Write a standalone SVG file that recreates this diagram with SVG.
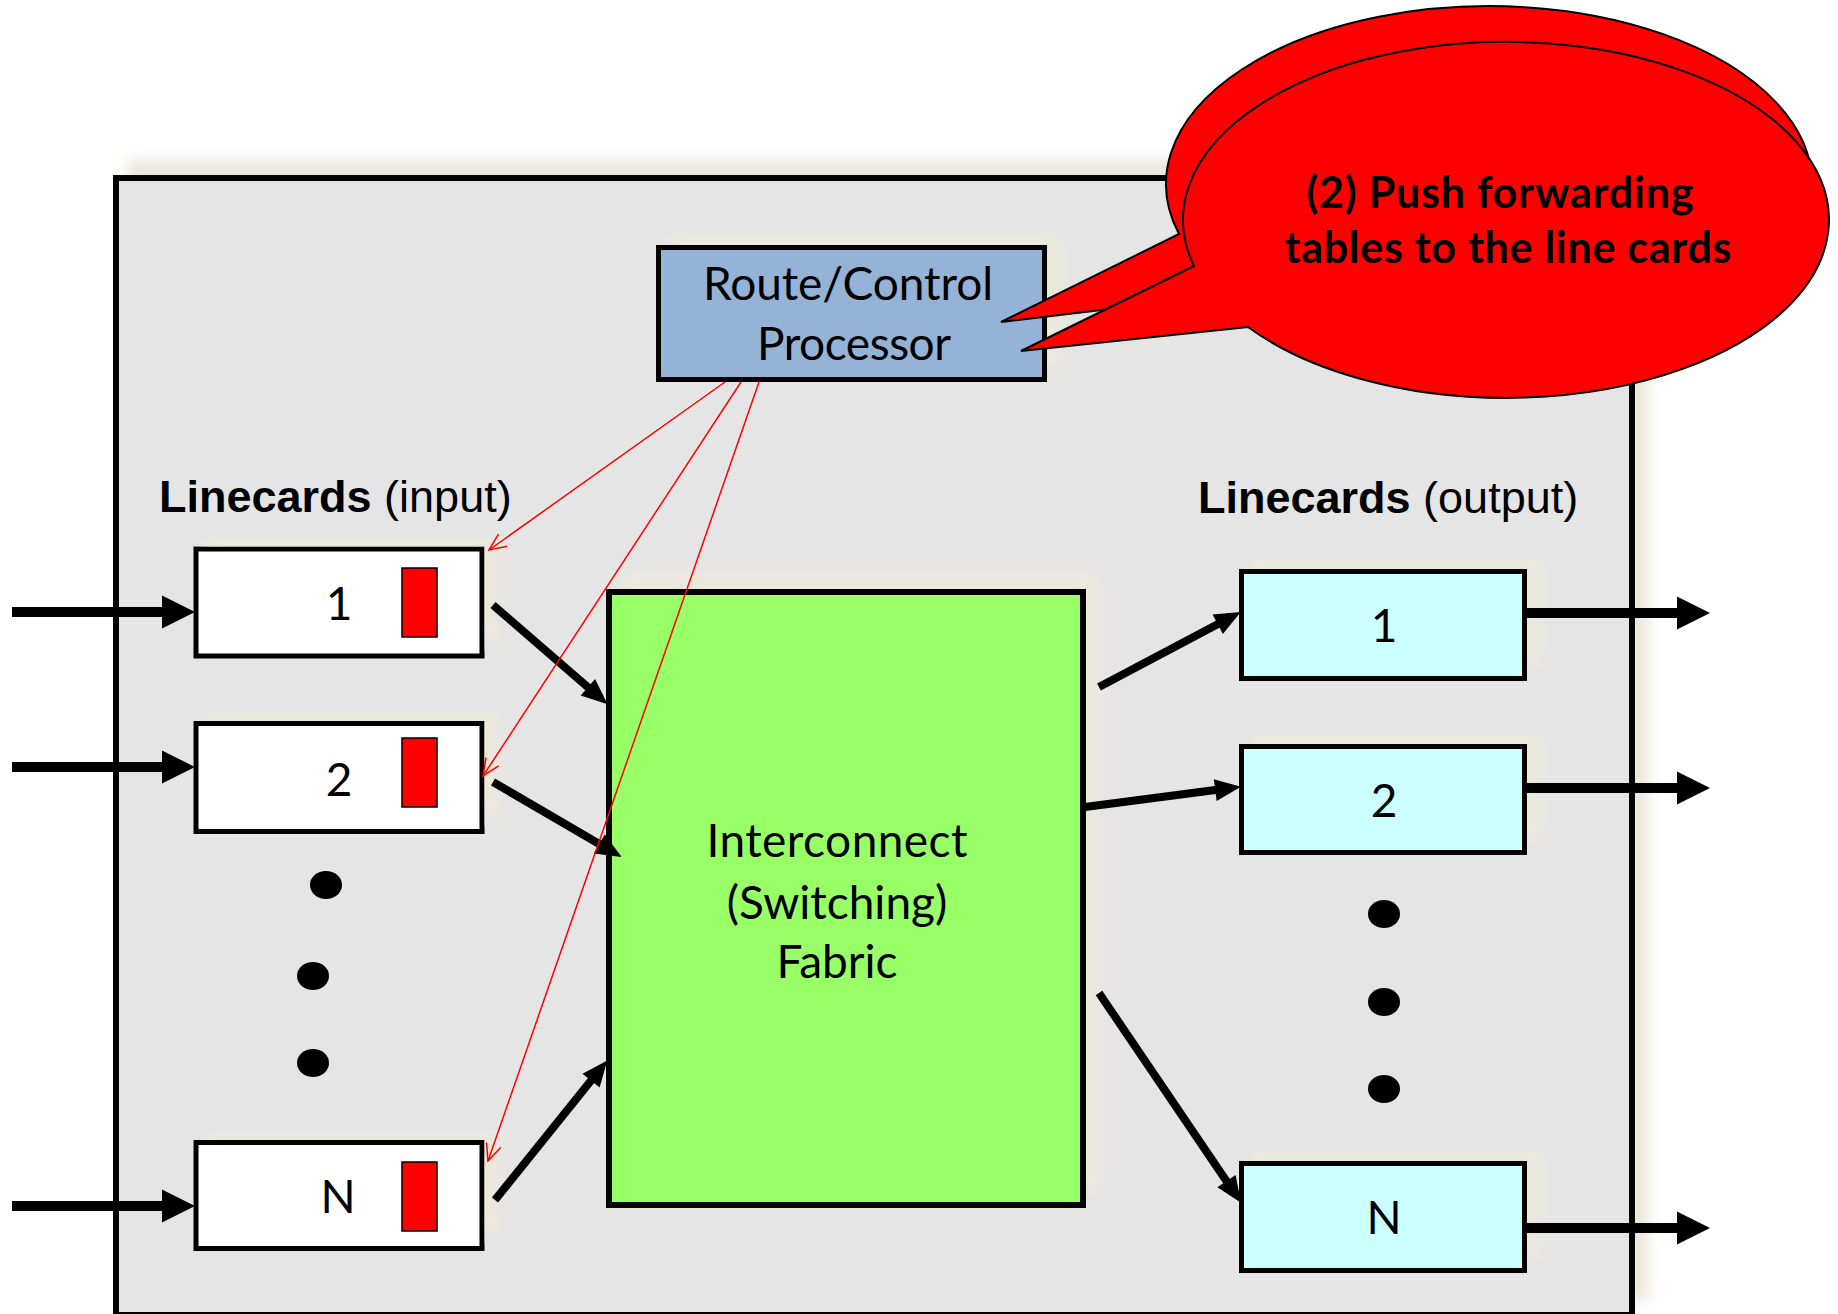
<svg xmlns="http://www.w3.org/2000/svg" width="1838" height="1314" viewBox="0 0 1838 1314">
<style>
.box{stroke:#000;stroke-width:5}
.cal{font-family:Lato,"Open Sans","Liberation Sans",sans-serif;fill:#000}
.ari{font-family:"Liberation Sans",Arial,sans-serif;fill:#000;font-size:45px}
.num{font-size:46px;text-anchor:middle}
.thick{stroke:#000;stroke-width:10;fill:none}
.conn{stroke:#000;stroke-width:8;fill:none}
.red{stroke:#ff0000;stroke-width:1.5;fill:none}
.call{fill:#ff0000;stroke:#000;stroke-width:2}
</style>
<defs>
<filter id="glow" x="-10%" y="-10%" width="120%" height="120%">
<feGaussianBlur in="SourceAlpha" stdDeviation="7" result="b"/>
<feOffset in="b" dx="14" dy="-16" result="o"/>
<feFlood flood-color="#ebe8dc"/>
<feComposite in2="o" operator="in" result="s"/>
<feMerge><feMergeNode in="s"/><feMergeNode in="SourceGraphic"/></feMerge>
</filter>
<marker id="big" markerUnits="userSpaceOnUse" markerWidth="36" markerHeight="36" refX="2" refY="16.5" orient="auto" overflow="visible">
<path d="M0,0 L33,16.5 L0,33 Z" fill="#000"/>
</marker>
<marker id="mid" markerUnits="userSpaceOnUse" markerWidth="28" markerHeight="24" refX="2" refY="11" orient="auto" overflow="visible">
<path d="M0,0 L26,11 L0,22 Z" fill="#000"/>
</marker>
<marker id="open" markerUnits="userSpaceOnUse" markerWidth="20" markerHeight="18" refX="17" refY="7.5" orient="auto" overflow="visible">
<path d="M0,0 L17,7.5 L0,15" fill="none" stroke="#ff0000" stroke-width="1.5"/>
</marker>
</defs>
<rect width="1838" height="1314" fill="#fff"/>
<g id="router-frame">
<rect x="116" y="178" width="1516" height="1137" fill="#e5e5e5" stroke="#000" stroke-width="6" filter="url(#glow)"/>
</g>
<g id="label-input"><text class="ari" x="159" y="512"><tspan font-weight="bold">Linecards</tspan> (input)</text></g>
<g id="label-output"><text class="ari" x="1198" y="513"><tspan font-weight="bold">Linecards</tspan> (output)</text></g>
<g id="processor">
<rect class="box" x="658.5" y="247.5" width="386" height="132" fill="#95b3d7" filter="url(#glow)"/>
<text class="cal" x="848" y="300" font-size="46" text-anchor="middle" textLength="290">Route/Control</text>
<text class="cal" x="854" y="360" font-size="46" text-anchor="middle" textLength="194">Processor</text>
</g>
<g id="fabric">
<rect x="609" y="592" width="474" height="613" fill="#99ff66" stroke="#000" stroke-width="6" filter="url(#glow)"/>
<text class="cal" font-size="46" text-anchor="middle"><tspan x="837" y="857" textLength="261">Interconnect</tspan><tspan x="837" y="919">(Switching)</tspan><tspan x="837" y="978">Fabric</tspan></text>
</g>
<g id="in-1">
<rect class="box" x="196" y="549" width="286" height="107" fill="#fff" filter="url(#glow)"/>
<rect x="402" y="568" width="35" height="69" fill="#ff0000" stroke="#000" stroke-width="1.5"/>
<text class="cal num" x="339" y="620">1</text>
</g>
<g id="in-2">
<rect class="box" x="196" y="723.5" width="286" height="108" fill="#fff" filter="url(#glow)"/>
<rect x="402" y="738" width="35" height="69" fill="#ff0000" stroke="#000" stroke-width="1.5"/>
<text class="cal num" x="339" y="796">2</text>
</g>
<g id="in-n">
<rect class="box" x="196" y="1142.5" width="286" height="106" fill="#fff" filter="url(#glow)"/>
<rect x="402" y="1162" width="35" height="69" fill="#ff0000" stroke="#000" stroke-width="1.5"/>
<text class="cal num" x="338" y="1213">N</text>
</g>
<g id="in-dots" fill="#000">
<ellipse cx="326" cy="885" rx="16" ry="14"/>
<ellipse cx="313" cy="976" rx="16" ry="14"/>
<ellipse cx="313" cy="1063" rx="16" ry="14"/>
</g>
<g id="out-1">
<rect class="box" x="1241.5" y="571.5" width="283" height="107" fill="#ccffff" filter="url(#glow)"/>
<text class="cal num" x="1384" y="642">1</text>
</g>
<g id="out-2">
<rect class="box" x="1241.5" y="746.5" width="283" height="106" fill="#ccffff" filter="url(#glow)"/>
<text class="cal num" x="1384" y="817">2</text>
</g>
<g id="out-n">
<rect class="box" x="1241.5" y="1163.5" width="283" height="107" fill="#ccffff" filter="url(#glow)"/>
<text class="cal num" x="1384" y="1234">N</text>
</g>
<g id="out-dots" fill="#000">
<ellipse cx="1384" cy="914" rx="16" ry="14"/>
<ellipse cx="1384" cy="1002" rx="16" ry="14"/>
<ellipse cx="1384" cy="1089" rx="16" ry="14"/>
</g>
<g id="connectors">
<line class="thick" x1="12" y1="612" x2="164" y2="612" marker-end="url(#big)"/>
<line class="thick" x1="12" y1="767" x2="164" y2="767" marker-end="url(#big)"/>
<line class="thick" x1="12" y1="1206" x2="164" y2="1206" marker-end="url(#big)"/>
<line class="thick" x1="1527" y1="613" x2="1679" y2="613" marker-end="url(#big)"/>
<line class="thick" x1="1527" y1="788" x2="1679" y2="788" marker-end="url(#big)"/>
<line class="thick" x1="1527" y1="1228" x2="1679" y2="1228" marker-end="url(#big)"/>
<line class="conn" x1="493" y1="605" x2="589.4" y2="688.6" marker-end="url(#mid)"/>
<line class="conn" x1="493" y1="782" x2="601" y2="845" marker-end="url(#mid)"/>
<line class="conn" x1="495" y1="1200" x2="592.3" y2="1079.1" marker-end="url(#mid)"/>
<line class="conn" x1="1099" y1="687" x2="1219.5" y2="623.3" marker-end="url(#mid)"/>
<line class="conn" x1="1085" y1="807" x2="1217.2" y2="789.8" marker-end="url(#mid)"/>
<line class="conn" x1="1099" y1="993" x2="1227.6" y2="1182.8" marker-end="url(#mid)"/>
<line class="red" x1="725" y1="382" x2="489" y2="550" marker-end="url(#open)"/>
<line class="red" x1="741" y1="382" x2="483" y2="776" marker-end="url(#open)"/>
<line class="red" x1="759" y1="382" x2="488" y2="1161" marker-end="url(#open)"/>
</g>
<g id="callout-back">
<path class="call" d="M1179,234 L1001,322 L1235,294 A323 178 0 1 0 1179,234 Z"/>
</g>
<g id="callout-front">
<path class="call" d="M1194,266 L1021,351 L1248,327 A323 178 0 1 0 1194,266 Z"/>
<text class="cal" font-weight="bold" font-size="43" text-anchor="middle"><tspan x="1500" y="208" textLength="387">(2) Push forwarding</tspan><tspan x="1508" y="263" textLength="447">tables to the line cards</tspan></text>
</g>
</svg>
